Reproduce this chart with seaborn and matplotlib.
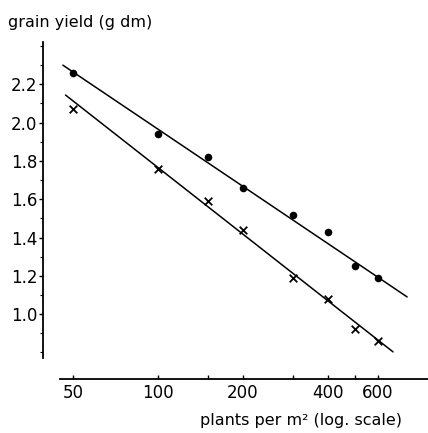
import numpy as np
import pandas as pd
import matplotlib
matplotlib.use('Agg')
import matplotlib.pyplot as plt
import seaborn as sns
from matplotlib.ticker import FixedLocator, NullFormatter, MultipleLocator

# plants per m2 and grain yield (g dm)
plants = [50, 100, 150, 200, 300, 400, 500, 600]
yield_dots = [2.26, 1.94, 1.82, 1.66, 1.52, 1.43, 1.25, 1.19]
yield_crosses = [2.07, 1.76, 1.59, 1.44, 1.19, 1.08, 0.92, 0.86]

# fitted lines (ends as drawn)
fit_dots_x = [46, 764]
fit_dots_y = [2.30, 1.09]
fit_cross_x = [47, 681]
fit_cross_y = [2.144, 0.803]

x_ticks = [50, 100, 200, 400, 600]
x_minor = [150, 300, 500]

sns.set_style('ticks', {'axes.edgecolor': 'black', 'text.color': 'black',
                        'xtick.color': 'black', 'ytick.color': 'black',
                        'axes.labelcolor': 'black'})
plt.rcParams['font.family'] = ['DejaVu Sans']

df = pd.DataFrame({'plants': plants + plants,
                   'yield': yield_dots + yield_crosses,
                   'serie': ['dot'] * len(plants) + ['cross'] * len(plants)})

fig = plt.figure(figsize=(4.28, 4.33), dpi=100)
ax = fig.add_axes([43 / 428, 1 - 358 / 433, (428 - 43) / 428, (358 - 42) / 433])

sns.lineplot(x=fit_dots_x, y=fit_dots_y, ax=ax, color='black', linewidth=1.1)
sns.lineplot(x=fit_cross_x, y=fit_cross_y, ax=ax, color='black', linewidth=1.1)
sns.scatterplot(data=df[df['serie'] == 'dot'], x='plants', y='yield', ax=ax,
                marker='o', color='black', s=30, edgecolor='black', linewidth=0)
sns.scatterplot(data=df[df['serie'] == 'cross'], x='plants', y='yield', ax=ax,
                marker='x', color='black', s=30, linewidth=1.3)

ax.set_xscale('log')
ax.set_xlim(39.1, 906)
ax.set_ylim(0.771, 2.421)

ax.xaxis.set_major_locator(FixedLocator(x_ticks))
ax.xaxis.set_minor_locator(FixedLocator(x_minor))
ax.set_xticklabels([str(t) for t in x_ticks])
ax.xaxis.set_minor_formatter(NullFormatter())
ax.tick_params(axis='x', which='both', direction='in', length=3, width=1,
               labelsize=12, pad=4, colors='black')

ax.set_yticks(np.arange(1.0, 2.21, 0.2))
ax.set_yticklabels([f'{v:.1f}' for v in np.arange(1.0, 2.21, 0.2)])
ax.yaxis.set_minor_locator(MultipleLocator(0.1))
ax.tick_params(axis='y', which='major', direction='out', length=3, width=1,
               labelsize=12, pad=1, colors='black')
ax.tick_params(axis='y', which='minor', direction='out', length=2, width=0.8,
               colors='black')

ax.spines['top'].set_visible(False)
ax.spines['right'].set_visible(False)
ax.spines['bottom'].set_position(('outward', 15))
ax.spines['bottom'].set_bounds(44.9, 906)
for s in ['left', 'bottom']:
    ax.spines[s].set_linewidth(1.3)
    ax.spines[s].set_color('black')
ax.set_xlabel('')
ax.set_ylabel('')

fig.text(8 / 428, 1 - 22 / 433, 'grain yield (g dm)', fontsize=11.5,
         va='center', color='black')
fig.text(301 / 428, 1 - 420 / 433, 'plants per m² (log. scale)', fontsize=11.5,
         ha='center', va='center', color='black')

fig.savefig('out.png', dpi=100)
